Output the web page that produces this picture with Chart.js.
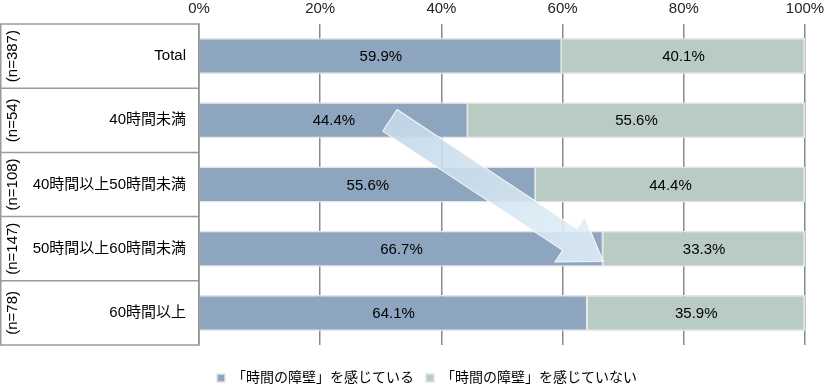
<!DOCTYPE html>
<html>
<head>
<meta charset="utf-8">
<script src="https://cdn.jsdelivr.net/npm/chart.js@4"></script>
<style>
  html, body { margin: 0; padding: 0; background: #fff; }
  #wrap { width: 824px; height: 385px; }
</style>
</head>
<body>
<div id="wrap"><canvas id="chart"></canvas></div>
<script>
const categories = ['Total', '40時間未満', '40時間以上50時間未満', '50時間以上60時間未満', '60時間以上'];
const sampleSizes = ['(n=387)', '(n=54)', '(n=108)', '(n=147)', '(n=78)'];
const feelBarrier = [59.9, 44.4, 55.6, 66.7, 64.1];
const noBarrier = [40.1, 55.6, 44.4, 33.3, 35.9];
const seriesNames = ['「時間の障壁」を感じている', '「時間の障壁」を感じていない'];
// arrow annotation: [value %, category index]
const arrowFrom = [31.5, 1.0];
const arrowTo = [66.7, 3.2];

const FONT = "'Liberation Sans', 'Noto Sans CJK JP', sans-serif";

// left panel with boxes, n labels and category names
const sidePanel = {
    id: 'sidePanel',
    afterDraw(chart) {
        const ctx = chart.ctx;
        const y = chart.scales.y;
        const area = chart.chartArea;
        const band = (area.bottom - area.top) / categories.length;
        const right = area.left;
        ctx.save();
        ctx.strokeStyle = '#9a9a9a';
        ctx.lineWidth = 1.5;
        ctx.strokeRect(0.75, area.top, right - 0.75, area.bottom - area.top);
        for (let i = 1; i < categories.length; i++) {
            const yy = area.top + band * i;
            ctx.beginPath();
            ctx.moveTo(0, yy);
            ctx.lineTo(right, yy);
            ctx.stroke();
        }
        ctx.fillStyle = '#000';
        categories.forEach((c, i) => {
            const cy = y.getPixelForValue(i);
            ctx.font = '15px ' + FONT;
            ctx.textAlign = 'right';
            ctx.textBaseline = 'middle';
            ctx.fillText(c, right - 13, cy);
            ctx.save();
            ctx.translate(13, cy);
            ctx.rotate(-Math.PI / 2);
            ctx.font = '15px ' + FONT;
            ctx.textAlign = 'center';
            ctx.fillText(sampleSizes[i], 0, 0);
            ctx.restore();
        });
        ctx.restore();
    }
};

// value labels centred in each segment
const barLabels = {
    id: 'barLabels',
    afterDatasetsDraw(chart) {
        const ctx = chart.ctx;
        ctx.save();
        ctx.font = '15px ' + FONT;
        ctx.fillStyle = '#000';
        ctx.textAlign = 'center';
        ctx.textBaseline = 'middle';
        chart.data.datasets.forEach((ds, di) => {
            chart.getDatasetMeta(di).data.forEach((bar, i) => {
                const p = bar.getProps(['x', 'y', 'base'], true);
                ctx.fillText(ds.data[i].toFixed(1) + '%', (p.x + p.base) / 2, p.y + 1);
            });
        });
        ctx.restore();
    }
};

// translucent arrow
const trendArrow = {
    id: 'trendArrow',
    afterDraw(chart) {
        const ctx = chart.ctx;
        const xs = chart.scales.x, ys = chart.scales.y;
        const x0 = xs.getPixelForValue(arrowFrom[0]), y0 = ys.getPixelForValue(arrowFrom[1]);
        const x1 = xs.getPixelForValue(arrowTo[0]), y1 = ys.getPixelForValue(arrowTo[1]);
        const len = Math.hypot(x1 - x0, y1 - y0);
        const ang = Math.atan2(y1 - y0, x1 - x0);
        const shaft = 13, head = 27, headLen = 40;
        ctx.save();
        ctx.translate(x0, y0);
        ctx.rotate(ang);
        const g = ctx.createLinearGradient(0, 0, len, 0);
        g.addColorStop(0, 'rgba(196,216,233,0.92)');
        g.addColorStop(1, 'rgba(226,240,249,0.85)');
        ctx.fillStyle = g;
        ctx.strokeStyle = 'rgba(255,255,255,0.9)';
        ctx.lineWidth = 1;
        ctx.beginPath();
        ctx.moveTo(0, -shaft);
        ctx.lineTo(len - headLen, -shaft);
        ctx.lineTo(len - headLen, -head);
        ctx.lineTo(len, 0);
        ctx.lineTo(len - headLen, head);
        ctx.lineTo(len - headLen, shaft);
        ctx.lineTo(0, shaft);
        ctx.closePath();
        ctx.fill();
        ctx.stroke();
        ctx.restore();
    }
};

// move the legend down and left without moving the plot
const legendShift = {
    id: 'legendShift',
    afterLayout(chart) {
        chart.legend.top += 14;
        chart.legend.bottom += 14;
        chart.legend.left -= 75;
        chart.legend.right -= 75;
    }
};

new Chart(document.getElementById('chart'), {
    type: 'bar',
    data: {
        labels: categories,
        datasets: [
            {
                label: seriesNames[0],
                data: feelBarrier,
                backgroundColor: '#8ea5bf',
                borderColor: '#e4e4e4',
                borderWidth: 1.5,
                barPercentage: 0.56,
                categoryPercentage: 1
            },
            {
                label: seriesNames[1],
                data: noBarrier,
                backgroundColor: '#b9ccc4',
                borderColor: '#e4e4e4',
                borderWidth: 1.5,
                barPercentage: 0.56,
                categoryPercentage: 1
            }
        ]
    },
    options: {
        indexAxis: 'y',
        responsive: true,
        maintainAspectRatio: false,
        animation: false,
        layout: { padding: { left: 199, right: 19, top: -6, bottom: 4 } },
        scales: {
            x: {
                position: 'top',
                stacked: true,
                min: 0,
                max: 100,
                afterFit(scale) {
                    scale.paddingLeft = 0;
                    scale.paddingRight = 0;
                },
                ticks: {
                    stepSize: 20,
                    padding: 6,
                    color: '#222',
                    font: { size: 15, family: FONT },
                    callback: v => v + '%'
                },
                grid: { color: '#8a8a8a', lineWidth: 1.5, drawTicks: false },
                border: { display: false }
            },
            y: {
                stacked: true,
                display: false
            }
        },
        plugins: {
            legend: {
                position: 'bottom',
                labels: {
                    boxWidth: 8,
                    boxHeight: 8,
                    padding: 12,
                    color: '#000',
                    font: { size: 14, family: FONT }
                }
            },
            tooltip: { enabled: false }
        }
    },
    plugins: [sidePanel, barLabels, trendArrow, legendShift]
});
</script>
</body>
</html>
